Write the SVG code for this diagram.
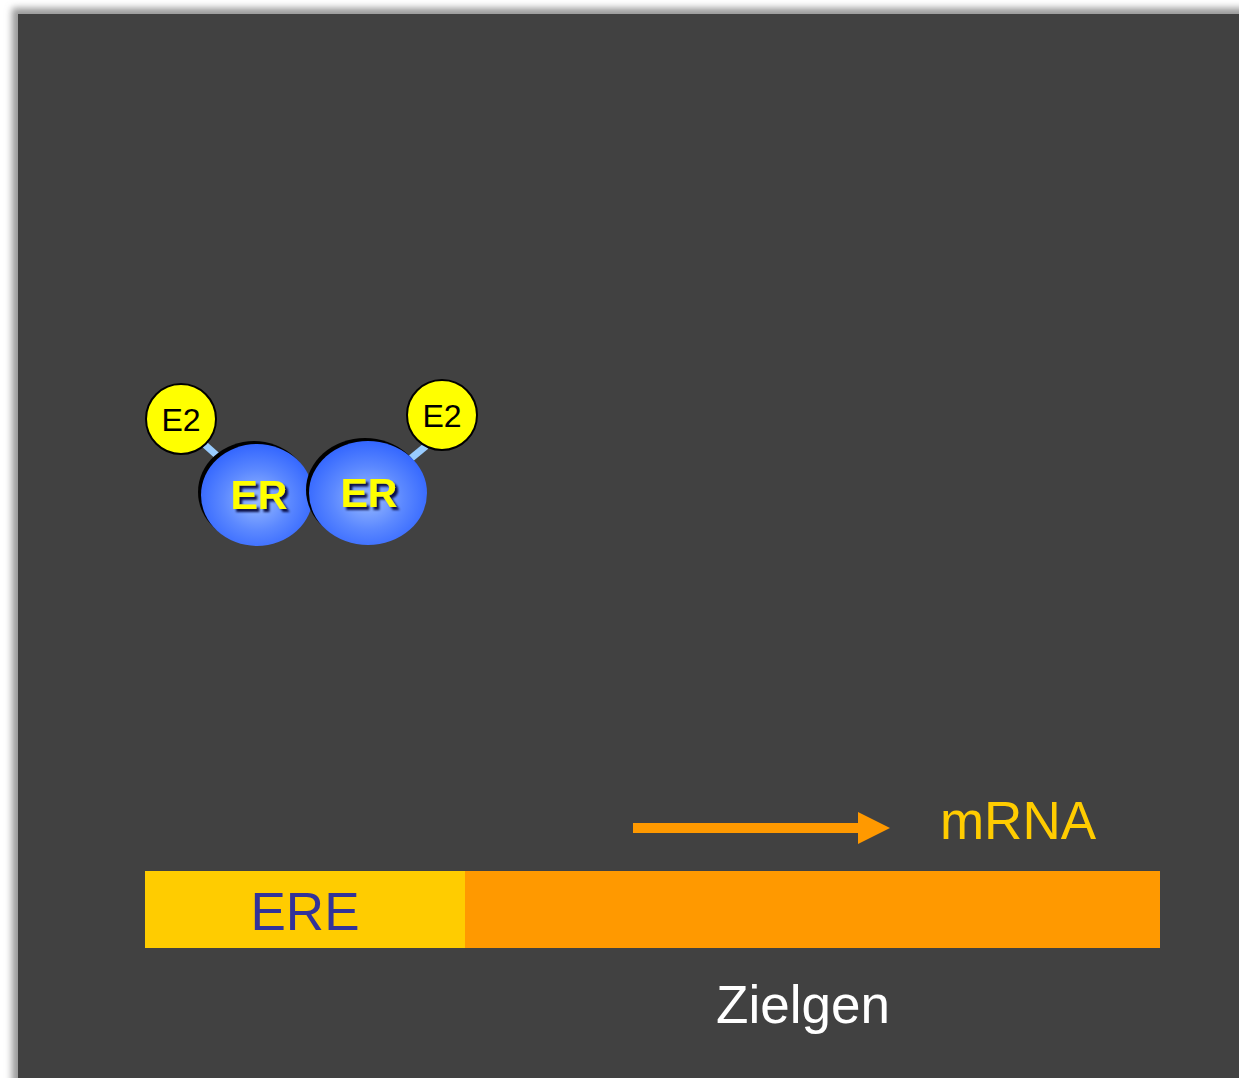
<svg xmlns="http://www.w3.org/2000/svg" width="1239" height="1078" viewBox="0 0 1239 1078">
  <defs>
    <filter id="soft" x="-5%" y="-5%" width="110%" height="110%">
      <feGaussianBlur stdDeviation="3.5"/>
    </filter>
    <filter id="textShadow" x="-20%" y="-20%" width="140%" height="140%">
      <feGaussianBlur in="SourceAlpha" stdDeviation="1"/>
      <feOffset dx="2.5" dy="2.5" result="sh"/>
      <feFlood flood-color="#000033" flood-opacity="0.9"/>
      <feComposite in2="sh" operator="in"/>
      <feMerge>
        <feMergeNode/>
        <feMergeNode in="SourceGraphic"/>
      </feMerge>
    </filter>
    <radialGradient id="erFill" cx="50%" cy="55%" r="55%">
      <stop offset="0" stop-color="#99bbff"/>
      <stop offset="0.55" stop-color="#5b88ff"/>
      <stop offset="1" stop-color="#3366ff"/>
    </radialGradient>
    <marker id="arrowHead" markerUnits="userSpaceOnUse" markerWidth="34" markerHeight="32" refX="0" refY="16" orient="auto">
      <path d="M0,0 L32,16 L0,32 Z" fill="#ff9900"/>
    </marker>
  </defs>
  <style>
    .e2 { fill: #ffff00; stroke: #000; stroke-width: 2; }
    .e2txt { font-family: "Liberation Sans", Arial, sans-serif; font-size: 32px; fill: #000; text-anchor: middle; }
    .ertxt { font-family: "Liberation Sans", Arial, sans-serif; font-size: 41px; font-weight: bold; fill: #ffff00; text-anchor: middle; }
    .link { stroke: #99ccff; stroke-width: 7; }
    .big { font-family: "Liberation Sans", Arial, sans-serif; font-size: 53px; text-anchor: middle; }
  </style>

  <!-- page and slide panel with soft drop shadow -->
  <rect x="0" y="0" width="1239" height="1078" fill="#ffffff"/>
  <rect x="12" y="8" width="1240" height="1090" fill="#999999" filter="url(#soft)"/>
  <rect x="18" y="14" width="1221" height="1064" fill="#414141"/>

  <!-- connectors -->
  <g id="connectors">
    <line class="link" x1="204" y1="444" x2="222" y2="460"/>
    <line class="link" x1="426" y1="446" x2="409" y2="460"/>
    <line x1="633" y1="828" x2="858" y2="828" stroke="#ff9900" stroke-width="10" marker-end="url(#arrowHead)"/>
  </g>

  <!-- receptor dimer -->
  <g id="er-left">
    <ellipse cx="254" cy="492" rx="56" ry="51" fill="#000"/>
    <ellipse cx="257" cy="495" rx="56" ry="51" fill="url(#erFill)"/>
    <text class="ertxt" x="259" y="509" filter="url(#textShadow)">ER</text>
  </g>
  <g id="er-right">
    <ellipse cx="365" cy="490" rx="59" ry="52" fill="#000"/>
    <ellipse cx="368" cy="493" rx="59" ry="52" fill="url(#erFill)"/>
    <text class="ertxt" x="369" y="507" filter="url(#textShadow)">ER</text>
  </g>

  <!-- estradiol ligands -->
  <g id="e2-left">
    <circle class="e2" cx="181" cy="419" r="35"/>
    <text class="e2txt" x="181" y="431">E2</text>
  </g>
  <g id="e2-right">
    <circle class="e2" cx="442" cy="415" r="35"/>
    <text class="e2txt" x="442" y="427">E2</text>
  </g>

  <!-- transcript label -->
  <g id="mrna">
    <text class="big" x="1018" y="839" fill="#ffcc00">mRNA</text>
  </g>

  <!-- DNA: response element + target gene -->
  <g id="ere">
    <rect x="145" y="871" width="320" height="77" fill="#ffcc00"/>
    <text class="big" x="305" y="930" fill="#333399">ERE</text>
  </g>
  <g id="zielgen">
    <rect x="465" y="871" width="695" height="77" fill="#ff9900"/>
    <text class="big" x="803" y="1023" fill="#ffffff">Zielgen</text>
  </g>
</svg>
